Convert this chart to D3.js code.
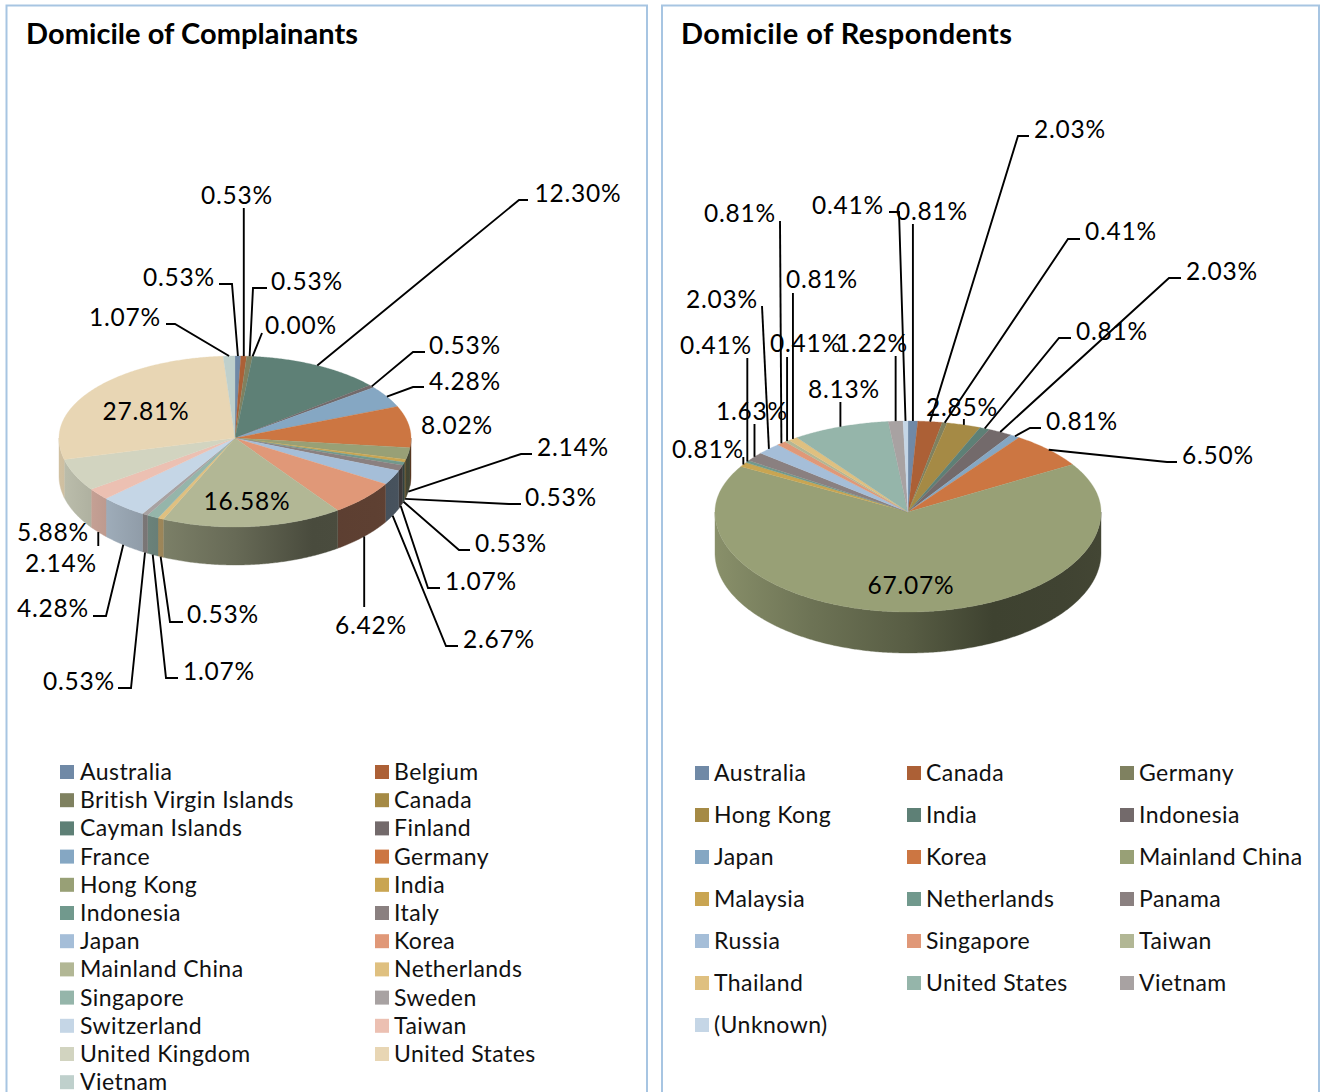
<!DOCTYPE html>
<html><head><meta charset="utf-8">
<script src="https://cdn.jsdelivr.net/npm/d3@7/dist/d3.min.js"></script>
<style>
html,body{margin:0;padding:0;background:#fff;overflow:hidden}
svg{display:block}
text{font-family:Lato,"Noto Sans",sans-serif;fill:#000}
.title{font-weight:700;font-size:29px}
.val{font-size:24.5px;letter-spacing:.75px;text-anchor:middle}
.leg{font-size:23px;letter-spacing:.45px;fill:#111}
</style></head><body>
<svg id="c" width="1320" height="1092"></svg>
<script>
// ---------- data ----------
const palette = ["#7089a6","#ac6036","#7f8160","#a58a45","#5e8076","#736a6b","#85a7c3","#cc7642","#98a076","#c9a552","#71998d","#8a8080","#a5bed8","#e09878","#b2b795","#dfc080","#95b5aa","#a8a2a2","#c5d6e6","#ecc0b2","#d2d4c0","#e8d6b4","#bfd0cc"];

const complainantCategories = ["Australia","Belgium","British Virgin Islands","Canada","Cayman Islands","Finland","France","Germany","Hong Kong","India","Indonesia","Italy","Japan","Korea","Mainland China","Netherlands","Singapore","Sweden","Switzerland","Taiwan","United Kingdom","United States","Vietnam"];
const complainantValues = [0.53,0.53,0.53,0.00,12.30,0.53,4.28,8.02,2.14,0.53,0.53,1.07,2.67,6.42,16.58,0.53,1.07,0.53,4.28,2.14,5.88,27.81,1.07];

const respondentCategories = ["Australia","Canada","Germany","Hong Kong","India","Indonesia","Japan","Korea","Mainland China","Malaysia","Netherlands","Panama","Russia","Singapore","Taiwan","Thailand","United States","Vietnam","(Unknown)"];
const respondentValues = [0.81,2.03,0.41,2.85,0.81,2.03,0.81,6.50,67.07,0.81,0.41,1.63,2.03,0.81,0.41,0.81,8.13,1.22,0.41];

// ---------- layout (label centre x, centre y, optional leader route) ----------
// route: points the leader passes from the label towards the slice rim; a null x means straight above/below the rim point
const complainantLabels = [
 [179,277,[[219,284],[232,284]]],
 [237,195,[[null,208]]],
 [307,281,[[267,288],[253,288]]],
 [301,325,[[262,333]]],
 [578,193,[[528,200],[519,200]]],
 [465,345,[[425,352],[413,352]]],
 [465,381,[[424,387],[413,387]]],
 [457,425,null],
 [573,447,[[532,454],[521,454]]],
 [561,497,[[521,504],[509,504]]],
 [511,543,[[470,550],[459,550]]],
 [481,581,[[440,588],[428,588]]],
 [499,639,[[458,646],[446,646]]],
 [371,625,[[null,607]]],
 [247,501,null],
 [223,614,[[183,622],[170,622]]],
 [219,671,[[178,678],[166,678]]],
 [79,681,[[118,688],[131,688]]],
 [53,608,[[93,616],[106,616]]],
 [61,563,[[null,546]]],
 [53,532,null],
 [146,411,null],
 [125,317,[[166,324],[175,324]]]
];
const respondentLabels = [
 [932,211,[[null,224]]],
 [1070,129,[[1029,136],[1018,136]]],
 [1121,231,[[1080,239],[1068,239]]],
 [962,407,[[null,419]]],
 [1112,331,[[1071,338],[1059,338]]],
 [1222,271,[[1181,278],[1169,278]]],
 [1082,421,[[1041,428],[1030,428]]],
 [1218,455,[[1177,462],[1167,462]]],
 [911,585,null],
 [708,449,[[null,457]]],
 [716,345,[[null,358]]],
 [752,411,[[null,424]]],
 [722,299,[[762,306]]],
 [740,213,[[780,221]]],
 [806,343,[[null,357]]],
 [822,279,[[null,293]]],
 [844,389,[[null,402]]],
 [872,343,[[null,356]]],
 [848,205,[[889,212],[899,212]]]
];

const charts = [
 {title:"Domicile of Complainants", tx:26, tw:332, cats:complainantCategories, vals:complainantValues, labels:complainantLabels,
  cx:235, cy:438, rx:176, ryTop:82, ryBot:89, depth:38,
  legend:{cols:[[60,80],[375,394]], y0:772, dy:28.2}},
 {title:"Domicile of Respondents", tx:681, tw:331, cats:respondentCategories, vals:respondentValues, labels:respondentLabels,
  cx:908, cy:512, rx:193, ryTop:91, ryBot:100, depth:41,
  legend:{cols:[[695,714],[907,926],[1120,1139]], y0:773, dy:42}}
];

// lighting of the cylinder wall, left to right
const wallOffsets = [0,.25,.5,.72,.9,1];
const wallShade   = [.9,.72,.58,.41,.42,.44];

const svg = d3.select("#c");
const defs = svg.append("defs");

// panels
[[6.5,5.5,640.5],[662,5.5,657]].forEach(p=>{
  svg.append("rect").attr("x",p[0]).attr("y",p[1]).attr("width",p[2]).attr("height",1200)
     .attr("fill","#fff").attr("stroke","#a7c5e2").attr("stroke-width",2);
});

const deg = Math.PI/180;
charts.forEach((ch,ci)=>{
  const g = svg.append("g");
  g.append("text").attr("class","title").attr("x",ch.tx).attr("y",44)
    .attr("textLength",ch.tw).attr("lengthAdjust","spacing").text(ch.title);

  const color = d3.scaleOrdinal().domain(d3.range(palette.length)).range(palette);
  const arcs = d3.pie().sort(null).value(d=>d)(ch.vals);
  // angle 0 = top, clockwise; squashed ellipse with a nearer lower half
  const proj = (a,dz=0)=>{
    const s=Math.sin(a), c=Math.cos(a);
    return [ch.cx+ch.rx*s, ch.cy+dz-(c>0?ch.ryTop:ch.ryBot)*c];
  };
  const line = d3.line();
  const sample = (a0,a1,dz)=>{
    const n=Math.max(2,Math.ceil((a1-a0)/(0.5*deg)));
    return d3.range(n+1).map(i=>proj(a0+(a1-a0)*i/n,dz));
  };

  // wall
  const wall = g.append("g");
  arcs.forEach((d,i)=>{
    const a0=Math.max(d.startAngle,90*deg), a1=Math.min(d.endAngle,270*deg);
    if(a1<=a0) return;
    const id=`w${ci}_${i}`;
    const lg=defs.append("linearGradient").attr("id",id).attr("gradientUnits","userSpaceOnUse")
      .attr("x1",ch.cx-ch.rx).attr("x2",ch.cx+ch.rx).attr("y1",0).attr("y2",0);
    const base=d3.rgb(color(i));
    wallOffsets.forEach((o,k)=>{
      const f=wallShade[k];
      lg.append("stop").attr("offset",o).attr("stop-color",d3.rgb(base.r*f,base.g*f,base.b*f).formatHex());
    });
    const pts=sample(a0,a1,0).concat(sample(a0,a1,ch.depth).reverse());
    wall.append("path").attr("d",line(pts)+"Z").attr("fill",`url(#${id})`).attr("stroke",`url(#${id})`).attr("stroke-width",.4);
  });

  // top face
  const top = g.append("g");
  arcs.forEach((d,i)=>{
    if(d.endAngle-d.startAngle<=0) return;
    const pts=[[ch.cx,ch.cy]].concat(sample(d.startAngle,d.endAngle,0));
    top.append("path").attr("d",line(pts)+"Z").attr("fill",color(i)).attr("stroke",color(i)).attr("stroke-width",.3);
  });

  // leaders + labels
  arcs.forEach((d,i)=>{
    const route=ch.labels[i][2];
    if(route){
      const mid=(d.startAngle+d.endAngle)/2;
      const tip=proj(mid,Math.cos(mid)>0?0:ch.depth);
      const pts=route.map(p=>[p[0]===null?tip[0]:p[0],p[1]]).concat([tip]);
      g.append("path").attr("d",line(pts)).attr("fill","none").attr("stroke","#000").attr("stroke-width",1.9);
    }
  });
  arcs.forEach((d,i)=>{
    const [lx,ly]=ch.labels[i];
    g.append("text").attr("class","val").attr("x",lx).attr("y",ly+9).text(d3.format(".2f")(ch.vals[i])+"%");
  });

  // legend
  const L=ch.legend, nc=L.cols.length;
  const rowY=d3.scaleLinear().domain([0,1]).range([L.y0,L.y0+L.dy]);
  ch.cats.forEach((c,i)=>{
    const col=i%nc, row=Math.floor(i/nc), y=rowY(row);
    g.append("rect").attr("x",L.cols[col][0]).attr("y",y-7).attr("width",14).attr("height",14).attr("fill",color(i));
    g.append("text").attr("class","leg").attr("x",L.cols[col][1]).attr("y",y+8).text(c);
  });
});
</script>
</body></html>
